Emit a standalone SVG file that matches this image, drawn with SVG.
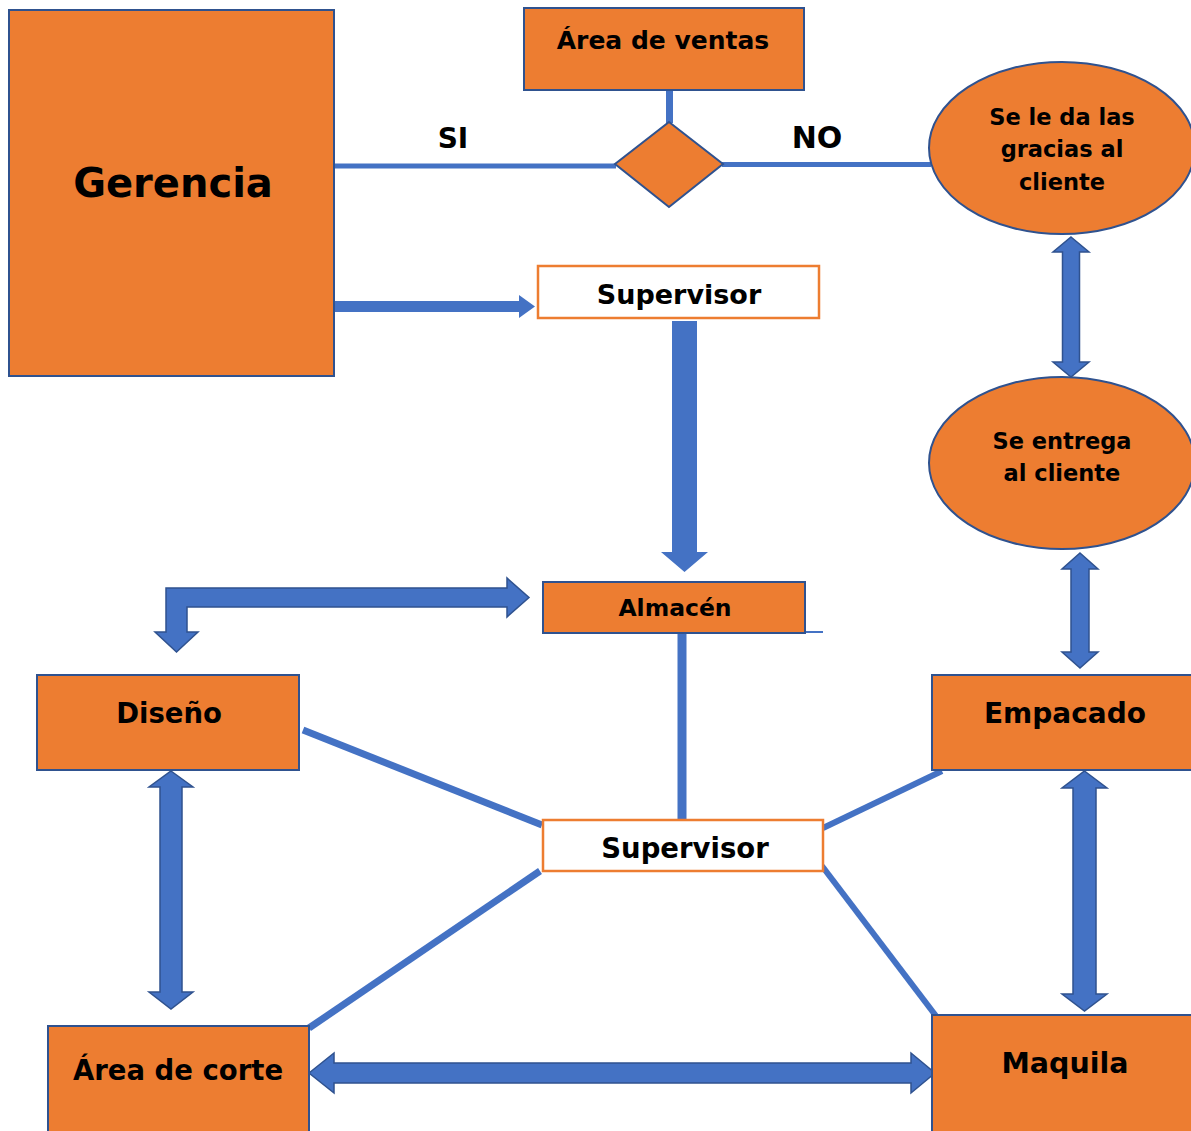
<svg xmlns="http://www.w3.org/2000/svg" width="1191" height="1131" viewBox="0 0 1191 1131">
  <style>
    .box { fill: #ED7D31; stroke: #2F528F; stroke-width: 2; }
    .sup { fill: #FFFFFF; stroke: #ED7D31; stroke-width: 2.5; }
    .lbl { font-family: "DejaVu Sans", Verdana, sans-serif; font-weight: bold; fill: #000000; text-anchor: middle; }
    .wire { stroke: #4472C4; fill: none; }
    .arrow { fill: #4472C4; stroke: #2F528F; stroke-width: 1.5; stroke-linejoin: miter; }
    .flat { fill: #4472C4; stroke: none; }
  </style>

  <rect x="0" y="0" width="1191" height="1131" fill="#FFFFFF"/>

  <g id="connectors">
    <!-- decision lines -->
    <line class="wire" x1="669.5" y1="90" x2="669.5" y2="123" stroke-width="7"/>
    <line class="wire" x1="334" y1="166" x2="616" y2="166" stroke-width="5"/>
    <line class="wire" x1="722" y1="164.5" x2="931" y2="164.5" stroke-width="5"/>

    <!-- Gerencia to Supervisor -->
    <polygon class="flat" points="335,301 519,301 519,295 535,306.5 519,318 519,312 335,312"/>

    <!-- Supervisor down to Almacén -->
    <polygon class="flat" points="672,321 697,321 697,552 708,552 684.5,572 661,552 672,552"/>

    <!-- bent arrow Almacén / Diseño -->
    <polygon class="arrow" points="166,632 166,588 507,588 507,578 529,597.5 507,617 507,607 187,607 187,632 198,632 176.5,652 155,632"/>

    <!-- Almacén to lower Supervisor -->
    <line class="wire" x1="682" y1="633" x2="682" y2="820" stroke-width="9"/>
    <line class="wire" x1="805" y1="632" x2="823" y2="632" stroke-width="2"/>

    <!-- spokes from lower Supervisor -->
    <line class="wire" x1="303" y1="730" x2="542" y2="825" stroke-width="7"/>
    <line class="wire" x1="540" y1="871" x2="309" y2="1028" stroke-width="7"/>
    <line class="wire" x1="823" y1="828" x2="942" y2="771" stroke-width="6"/>
    <line class="wire" x1="822" y1="866" x2="936" y2="1016" stroke-width="6"/>

    <!-- double arrows -->
    <polygon class="arrow" points="1071,237 1089,252 1079.5,252 1079.5,362 1089,362 1071,377 1053,362 1062.5,362 1062.5,252 1053,252"/>
    <polygon class="arrow" points="1080,553 1098,569 1089,569 1089,652 1098,652 1080,668 1062,652 1071,652 1071,569 1062,569"/>
    <polygon class="arrow" points="1084.5,771 1107,788 1096,788 1096,994 1107,994 1084.5,1011 1062,994 1073,994 1073,788 1062,788"/>
    <polygon class="arrow" points="171,771 193,787 182,787 182,992 193,992 171,1009 149,992 160,992 160,787 149,787"/>
    <polygon class="arrow" points="309,1073 334,1053 334,1063 911,1063 911,1053 935,1073 911,1093 911,1083 334,1083 334,1093"/>
  </g>

  <g id="gerencia">
    <rect class="box" x="9" y="10" width="325" height="366"/>
    <text class="lbl" x="173" y="197" font-size="40">Gerencia</text>
  </g>

  <g id="area-ventas">
    <rect class="box" x="524" y="8" width="280" height="82"/>
    <text class="lbl" x="663" y="49" font-size="25">Área de ventas</text>
  </g>

  <g id="decision">
    <polygon class="box" points="669,122 723,164 669,207 615,164"/>
  </g>

  <g id="edge-labels">
    <text class="lbl" x="453" y="148" font-size="28">SI</text>
    <text class="lbl" x="817" y="148" font-size="30">NO</text>
  </g>

  <g id="gracias">
    <ellipse class="box" cx="1062" cy="148" rx="133" ry="86"/>
    <text class="lbl" x="1062" y="125" font-size="22.5">Se le da las</text>
    <text class="lbl" x="1062" y="157" font-size="22.5">gracias al</text>
    <text class="lbl" x="1062" y="190" font-size="22.5">cliente</text>
  </g>

  <g id="entrega">
    <ellipse class="box" cx="1062" cy="463" rx="133" ry="86"/>
    <text class="lbl" x="1062" y="449" font-size="22.5">Se entrega</text>
    <text class="lbl" x="1062" y="481" font-size="22.5">al cliente</text>
  </g>

  <g id="supervisor-top">
    <rect class="sup" x="538" y="266" width="281" height="52"/>
    <text class="lbl" x="679" y="304" font-size="27">Supervisor</text>
  </g>

  <g id="almacen">
    <rect class="box" x="543" y="582" width="262" height="51"/>
    <text class="lbl" x="675" y="616" font-size="23.5">Almacén</text>
  </g>

  <g id="diseno">
    <rect class="box" x="37" y="675" width="262" height="95"/>
    <text class="lbl" x="169" y="723" font-size="27.5">Diseño</text>
  </g>

  <g id="supervisor-bottom">
    <rect class="sup" x="543" y="820" width="280" height="51"/>
    <text class="lbl" x="685" y="858" font-size="27.5">Supervisor</text>
  </g>

  <g id="empacado">
    <rect class="box" x="932" y="675" width="264" height="95"/>
    <text class="lbl" x="1065" y="723" font-size="28">Empacado</text>
  </g>

  <g id="area-corte">
    <rect class="box" x="48" y="1026" width="261" height="110"/>
    <text class="lbl" x="178" y="1080" font-size="27.5">Área de corte</text>
  </g>

  <g id="maquila">
    <rect class="box" x="932" y="1015" width="264" height="121"/>
    <text class="lbl" x="1065" y="1073" font-size="28.5">Maquila</text>
  </g>
</svg>
